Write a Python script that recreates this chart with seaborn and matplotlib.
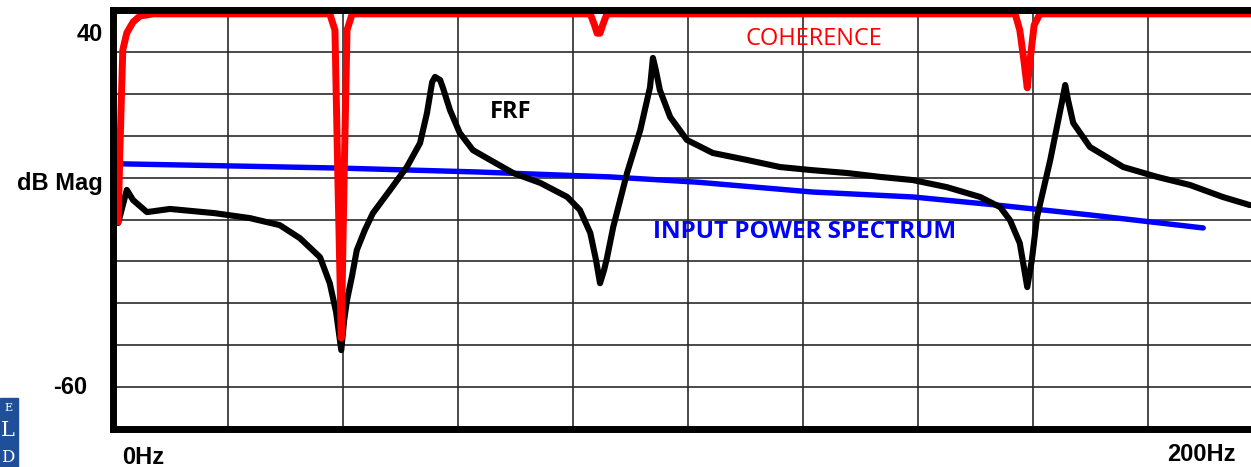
import numpy as np
import pandas as pd
import matplotlib
matplotlib.use("Agg")
import matplotlib.pyplot as plt
import seaborn as sns
from matplotlib.patches import Rectangle

# ---------------- data ----------------
frf_hz = [0.9, 2.4, 3.5, 5.9, 9.9, 17.7, 23.8, 29.0, 32.5, 36.0, 37.7, 38.8, 39.7, 40.2, 40.7,
          41.6, 42.4, 43.8, 45.2, 48.2, 51.1, 53.4, 54.6, 55.5, 56.0, 56.9, 57.4, 58.6, 60.3, 62.6,
          65.6, 69.6, 74.3, 79.0, 81.2, 83.0, 84.0, 84.7, 85.4, 85.9, 87.0, 89.4, 91.7, 93.4, 93.9,
          94.4, 95.1, 96.9, 99.8, 104.3, 110.3, 116.0, 121.7, 127.7, 133.4, 139.1, 145.0, 150.8, 154.3, 156.0,
          157.7, 159.0, 159.8, 160.7, 163.0, 165.0, 165.6, 166.1, 167.0, 169.9, 175.7, 181.6, 187.3, 193.0, 197.7]
frf_db = [-13.4, -4.0, -6.9, -10.3, -9.4, -10.6, -12.0, -14.0, -17.7, -23.1, -30.5, -38.7, -49.5, -41.0, -35.3,
          -28.2, -21.1, -15.4, -10.6, -4.0, 2.5, 9.3, 17.8, 26.6, 28.1, 27.2, 24.9, 18.7, 12.2, 7.3,
          4.5, 0.8, -2.0, -6.0, -9.7, -16.2, -23.9, -30.5, -26.8, -23.4, -14.5, 0.8, 13.0, 25.2, 33.5,
          30.1, 24.4, 16.7, 10.2, 6.5, 4.5, 2.5, 1.6, 0.8, -0.3, -1.2, -3.2, -6.0, -8.9, -12.6,
          -19.1, -31.6, -23.9, -11.7, 4.5, 20.7, 25.8, 21.5, 15.0, 8.2, 2.5, -0.3, -2.6, -6.0, -8.3]

input_hz = [1.7, 20.9, 39.5, 63.3, 86.4, 101.6, 121.7, 139.1, 153.7, 169.9, 189.6]
input_db = [3.4, 2.8, 2.2, 1.1, -0.3, -1.8, -4.6, -6.0, -8.3, -11.1, -14.8]

coh_hz = [0.9, 1.2, 1.4, 1.7, 2.4, 3.5, 4.7, 7.0,
          37.7, 38.6, 39.1, 39.7, 40.2, 40.7, 41.6,
          83.0, 83.7, 84.2, 84.7, 85.2, 85.9,
          156.9, 157.7, 158.4, 159.0, 159.5, 160.2, 161.2, 200.0]
coh_db = [-13.1, 7.3, 18.7, 35.7, 40.6, 43.7, 45.4, 46.0,
          46.0, 41.4, 0.0, -46.1, 0.0, 41.4, 46.0,
          46.0, 43.0, 40.5, 40.5, 43.0, 46.0,
          46.0, 41.4, 33.0, 25.0, 33.0, 42.8, 46.0, 46.0]

y_tick_values = [40, -60]
y_tick_labels = ["40", "-60"]
x_labels = ["0Hz", "200Hz"]

# ---------------- figure ----------------
sns.set_style("white")
plt.rcParams["font.family"] = ["Liberation Sans", "DejaVu Sans"]
plt.rcParams["text.color"] = "black"

fig = plt.figure(figsize=(12.51, 4.67), dpi=100)
ax = fig.add_axes([113 / 1251, 1 - 429 / 467, 1150 / 1251, 419 / 467])

ylo, yhi = -71.9, 47.1
ax.set_xlim(0, 200)
ax.set_ylim(ylo, yhi)

# grid: 10 x 10 divisions
for xv in np.arange(20, 200, 20):
    ax.axvline(xv, color="#2b2b2b", lw=1.2, zorder=1)
for yv in np.linspace(ylo, yhi, 11)[1:-1]:
    ax.axhline(yv, color="#2b2b2b", lw=1.2, zorder=1)

df_in = pd.DataFrame({"hz": input_hz, "db": input_db})
df_frf = pd.DataFrame({"hz": frf_hz, "db": frf_db})
df_coh = pd.DataFrame({"hz": coh_hz, "db": coh_db})

sns.lineplot(data=df_in, x="hz", y="db", color="#0000ff", lw=3.9, ax=ax,
             estimator=None, sort=False, zorder=3)
sns.lineplot(data=df_frf, x="hz", y="db", color="black", lw=4.4, ax=ax,
             estimator=None, sort=False, zorder=4)
sns.lineplot(data=df_coh, x="hz", y="db", color="#ff0000", lw=5.0, ax=ax,
             estimator=None, sort=False, zorder=5)

ax.set_xticks([])
ax.set_yticks([])
ax.set_xlabel("")
ax.set_ylabel("")

for side in ["left", "top", "bottom"]:
    ax.spines[side].set_visible(True)
    ax.spines[side].set_color("black")
    ax.spines[side].set_linewidth(5)
    ax.spines[side].set_zorder(6)
ax.spines["right"].set_visible(False)

ytr = ax.get_yaxis_transform()
ax.text(-0.020, y_tick_values[0], y_tick_labels[0], transform=ytr, ha="center", va="center",
        fontsize=17, fontweight="bold", color="black", clip_on=False)
ax.text(-0.037, y_tick_values[1], y_tick_labels[1], transform=ytr, ha="center", va="center",
        fontsize=17, fontweight="bold", color="black", clip_on=False)
ax.text(-0.046, 0.585, "dB Mag", transform=ax.transAxes, ha="center", va="center",
        fontsize=17, fontweight="bold", color="black", clip_on=False)

ax.text(0.0078, -0.067, x_labels[0], transform=ax.transAxes, ha="left", va="center",
        fontsize=17, fontweight="bold", color="black", clip_on=False)
ax.text(0.946, -0.062, x_labels[1], transform=ax.transAxes, ha="center", va="center",
        fontsize=17, fontweight="bold", color="black", clip_on=False)

# curve annotations
ax.text(121.9, 38.9, "COHERENCE", color="#ff0000", ha="center", va="center",
        fontsize=17, family=["Open Sans", "DejaVu Sans"], zorder=7)
ax.text(69.2, 18.1, "FRF", color="black", ha="center", va="center",
        fontsize=17, fontweight="bold", family=["Open Sans", "DejaVu Sans"], zorder=7)
ax.text(120.2, -16.0, "INPUT POWER SPECTRUM", color="#0000ff", ha="center", va="center",
        fontsize=17.5, fontweight="bold", family=["Open Sans", "DejaVu Sans"], zorder=7)

# small logo fragment at bottom-left
fig.patches.append(Rectangle((0, 0), 18 / 1251, 69 / 467, transform=fig.transFigure,
                             facecolor="#1f4f99", edgecolor="#1f4f99", zorder=0))
for ty, ch, fs in [(408, "E", 8), (431, "L", 15), (458, "D", 12)]:
    fig.text(8 / 1251, 1 - ty / 467, ch, color="white", ha="center", va="center",
             fontsize=fs, family="DejaVu Serif")

fig.savefig("out.png", dpi=100)
